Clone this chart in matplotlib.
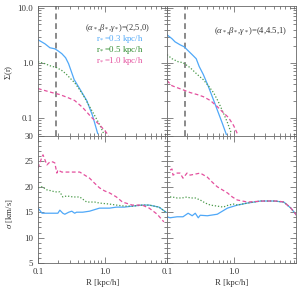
import numpy as np
import matplotlib
matplotlib.use("Agg")
import matplotlib.pyplot as plt
from matplotlib.ticker import FixedLocator, NullFormatter, FixedFormatter, MultipleLocator, LogLocator

plt.rcParams['font.family'] = ['Liberation Serif', 'DejaVu Serif']
plt.rcParams['mathtext.fontset'] = 'custom'
plt.rcParams['mathtext.rm'] = 'Liberation Serif'
plt.rcParams['mathtext.it'] = 'Liberation Serif:italic'
plt.rcParams['mathtext.bf'] = 'Liberation Serif:bold'

BLUE = '#4FA8F8'
GREEN = '#2E8B2E'
GREEN_LINE = '#4A9A4A'
MAG = '#E4509E'

# ---- top-left: surface density, (2,5,0)
RL_b = [0.1, 0.127, 0.151, 0.179, 0.199, 0.228, 0.26, 0.288, 0.317, 0.35, 0.42, 0.54, 0.66, 0.79]
SL_b = [2.62, 2.21, 1.87, 1.79, 1.65, 1.46, 1.23, 0.96, 0.69, 0.49, 0.34, 0.204, 0.109, 0.051]
RL_g = [0.1, 0.127, 0.151, 0.192, 0.228, 0.262, 0.30, 0.356, 0.424, 0.503, 0.596, 0.71, 0.84, 0.97]
SL_g = [1.04, 0.96, 0.88, 0.81, 0.72, 0.63, 0.53, 0.43, 0.32, 0.23, 0.158, 0.109, 0.075, 0.051]
RL_m = [0.1, 0.127, 0.162, 0.213, 0.28, 0.356, 0.47, 0.64, 0.84, 1.07, 1.15]
SL_m = [0.337, 0.31, 0.285, 0.262, 0.231, 0.204, 0.152, 0.1, 0.074, 0.053, 0.045]

# ---- top-right: surface density, (4,4.5,1)
RR_b = [0.1, 0.119, 0.132, 0.157, 0.181, 0.208, 0.239, 0.275, 0.305, 0.351, 0.418, 0.50, 0.59, 0.68, 0.78]
SR_b = [3.23, 2.73, 2.4, 2.12, 1.95, 1.65, 1.40, 1.18, 0.85, 0.61, 0.37, 0.21, 0.123, 0.078, 0.049]
RR_g = [0.1, 0.119, 0.147, 0.174, 0.223, 0.285, 0.351, 0.418, 0.50, 0.59, 0.70, 0.81, 0.93]
SR_g = [1.40, 1.18, 1.04, 1.0, 0.81, 0.61, 0.49, 0.38, 0.285, 0.195, 0.123, 0.081, 0.051]
RR_m = [0.1, 0.119, 0.142, 0.174, 0.223, 0.285, 0.351, 0.449, 0.57, 0.70, 0.84, 1.0, 1.14]
SR_m = [0.47, 0.38, 0.35, 0.32, 0.285, 0.262, 0.24, 0.204, 0.158, 0.123, 0.1, 0.072, 0.051]

# ---- bottom-left: velocity dispersion
VL_Rb = [0.1, 0.115, 0.151, 0.199, 0.213, 0.236, 0.253, 0.29, 0.322, 0.356, 0.38, 0.47, 0.596, 0.84, 1.19, 1.51, 1.99, 2.62, 3.68, 4.7, 6.6, 8.4]
VL_b = [15.8, 14.8, 14.8, 14.8, 15.4, 14.8, 14.6, 15.0, 15.2, 14.8, 15.0, 15.0, 15.2, 15.8, 15.8, 16.0, 16.0, 16.2, 16.4, 16.4, 16.0, 15.0]
VL_Rg = [0.1, 0.115, 0.136, 0.16, 0.179, 0.213, 0.236, 0.271, 0.337, 0.424, 0.54, 0.71, 0.84, 1.19, 1.51, 1.99, 2.62, 3.68, 4.7, 6.6, 8.4]
VL_g = [19.8, 20.0, 19.4, 19.2, 19.0, 19.0, 18.0, 18.2, 18.0, 18.0, 17.0, 17.0, 16.8, 16.6, 16.4, 16.2, 16.2, 16.4, 16.4, 16.0, 15.0]
VL_Rm = [0.1, 0.115, 0.119, 0.136, 0.151, 0.167, 0.179, 0.192, 0.199, 0.228, 0.271, 0.356, 0.424, 0.503, 0.596, 0.71, 0.84, 1.0, 1.19, 1.51, 1.86, 2.62, 3.68, 4.7, 6.2, 7.8]
VL_m = [23.7, 25.9, 26.3, 24.3, 24.9, 24.9, 24.7, 22.7, 23.3, 22.9, 22.9, 22.9, 22.9, 22.3, 21.7, 20.7, 19.8, 19.2, 18.8, 18.0, 17.0, 16.4, 16.4, 15.8, 14.6, 13.1]

# ---- bottom-right: velocity dispersion
VR_Rb = [0.1, 0.111, 0.142, 0.174, 0.208, 0.239, 0.266, 0.295, 0.316, 0.404, 0.57, 0.81, 1.14, 1.62, 2.56, 4.04, 5.7, 7.3, 9.0]
VR_b = [14.1, 13.9, 14.1, 14.1, 14.8, 14.3, 14.8, 13.9, 14.4, 14.3, 14.6, 15.8, 16.4, 16.8, 17.2, 17.2, 17.0, 15.8, 14.3]
VR_Rg = [0.111, 0.119, 0.142, 0.168, 0.2, 0.223, 0.266, 0.316, 0.377, 0.449, 0.57, 0.70, 0.84, 1.0, 1.14, 1.62, 2.56, 4.04, 5.7, 7.3, 9.0]
VR_g = [18.0, 18.0, 17.8, 17.8, 18.0, 17.8, 17.8, 17.4, 16.8, 16.4, 16.2, 16.0, 16.4, 16.6, 16.4, 16.8, 17.2, 17.2, 17.0, 15.8, 14.3]
VR_Rm = [0.111, 0.119, 0.123, 0.142, 0.157, 0.174, 0.2, 0.223, 0.266, 0.316, 0.404, 0.48, 0.57, 0.68, 0.81, 0.96, 1.14, 1.62, 2.84, 4.6, 5.7, 7.3, 9.0]
VR_m = [23.3, 23.5, 22.3, 22.7, 22.7, 21.7, 22.7, 22.3, 22.5, 22.7, 21.9, 20.9, 20.0, 19.4, 18.8, 18.0, 17.4, 17.0, 17.2, 17.2, 17.0, 15.8, 14.3]

R_cut = 0.185
labels_r = ['0.3', '0.5', '1.0']
params_L = '(2,5,0)'
params_R = '(4,4.5,1)'

xlim = (0.1, 8.7)
fig = plt.figure(figsize=(2.99, 2.99), dpi=100)
L, M, Rr = 38/299, 167/299, 296/299
T, Y1, B = 1 - 6/299, 1 - 136/299, 1 - 263/299
ax_tl = fig.add_axes([L, Y1, M - L, T - Y1])
ax_tr = fig.add_axes([M, Y1, Rr - M, T - Y1])
ax_bl = fig.add_axes([L, B, M - L, Y1 - B])
ax_br = fig.add_axes([M, B, Rr - M, Y1 - B])

fs = 6.3
for ax in (ax_tl, ax_tr, ax_bl, ax_br):
    ax.set_xscale('log')
    ax.set_xlim(*xlim)
    ax.tick_params(which='both', direction='in', top=True, right=True, colors='#555555',
                   labelcolor='#333333', labelsize=fs, width=0.5)
    ax.tick_params(which='major', length=4)
    ax.tick_params(which='minor', length=2)
    ax.xaxis.set_major_locator(FixedLocator([0.1, 1.0]))
    ax.xaxis.set_minor_locator(LogLocator(base=10, subs=np.arange(2, 10), numticks=10))
    ax.xaxis.set_minor_formatter(NullFormatter())
    for s in ax.spines.values():
        s.set_linewidth(0.6)
        s.set_color('#666666')

for ax in (ax_tl, ax_tr):
    ax.set_yscale('log')
    ax.set_ylim(0.046, 10.8)
    ax.yaxis.set_major_locator(FixedLocator([0.1, 1.0, 10.0]))
    ax.yaxis.set_minor_locator(LogLocator(base=10, subs=np.arange(2, 10), numticks=10))
    ax.yaxis.set_minor_formatter(NullFormatter())
    ax.xaxis.set_major_formatter(NullFormatter())
    ax.axvline(R_cut, color='#8a8a8a', lw=1.4, ls=(0, (3, 2)))
ax_tl.yaxis.set_major_formatter(FixedFormatter(['0.1', '1.0', '10.0']))
ax_tr.yaxis.set_major_formatter(NullFormatter())

for ax in (ax_bl, ax_br):
    ax.set_ylim(5, 30)
    ax.yaxis.set_major_locator(MultipleLocator(5))
    ax.yaxis.set_minor_locator(MultipleLocator(1))
    ax.xaxis.set_major_formatter(FixedFormatter(['0.1', '1.0']))
    ax.set_xlabel('R [kpc/h]', fontsize=fs, labelpad=2, color='#333333')
ax_br.yaxis.set_major_formatter(NullFormatter())

lw = 0.9
ax_tl.plot(RL_b, SL_b, color=BLUE, lw=lw)
ax_tl.plot(RL_g, SL_g, color=GREEN_LINE, lw=lw, ls=(0, (1, 1.5)))
ax_tl.plot(RL_m, SL_m, color=MAG, lw=lw, ls=(0, (3, 2)))
ax_tr.plot(RR_b, SR_b, color=BLUE, lw=lw)
ax_tr.plot(RR_g, SR_g, color=GREEN_LINE, lw=lw, ls=(0, (1, 1.5)))
ax_tr.plot(RR_m, SR_m, color=MAG, lw=lw, ls=(0, (3, 2)))

ax_bl.plot(VL_Rb, VL_b, color=BLUE, lw=lw)
ax_bl.plot(VL_Rg, VL_g, color=GREEN_LINE, lw=lw, ls=(0, (1, 1.5)))
ax_bl.plot(VL_Rm, VL_m, color=MAG, lw=lw, ls=(0, (3, 2)))
ax_br.plot(VR_Rb, VR_b, color=BLUE, lw=lw)
ax_br.plot(VR_Rg, VR_g, color=GREEN_LINE, lw=lw, ls=(0, (1, 1.5)))
ax_br.plot(VR_Rm, VR_m, color=MAG, lw=lw, ls=(0, (3, 2)))

ax_tl.set_ylabel(r'$\Sigma$(r)', fontsize=fs, color='#333333')
ax_bl.set_ylabel(r'$\sigma$ [km/s]', fontsize=fs, color='#333333')
ax_tl.yaxis.set_label_coords(-0.175, 0.49)
ax_bl.yaxis.set_label_coords(-0.175, 0.39)

ptxt = r'($\alpha_*$,$\beta_*$,$\gamma_*$)='
ax_tl.text(0.868, 0.83, ptxt + params_L, transform=ax_tl.transAxes, fontsize=6.0,
           ha='right', va='center', color='#333333')
ax_tr.text(0.93, 0.81, ptxt + params_R, transform=ax_tr.transAxes, fontsize=6.2,
           ha='right', va='center', color='#333333')
for i, (lab, c) in enumerate(zip(labels_r, [BLUE, GREEN, MAG])):
    ax_tl.text(0.814, 0.745 - i * 0.084, r'r$_*$=' + lab + ' kpc/h', transform=ax_tl.transAxes,
               fontsize=6.3, ha='right', va='center', color=c)

fig.savefig('out.png', dpi=100)
